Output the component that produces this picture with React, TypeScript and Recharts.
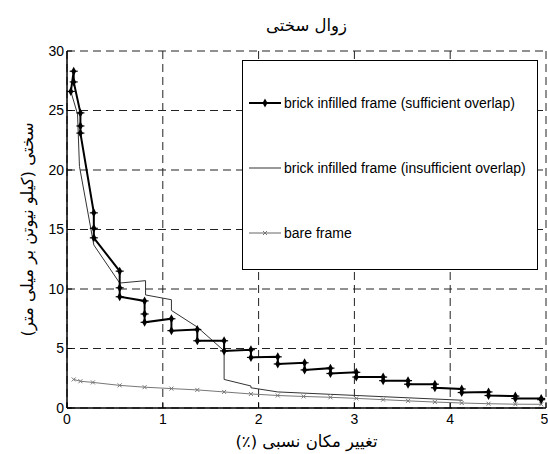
import { LineChart, Line, XAxis, YAxis, CartesianGrid, Legend } from 'recharts';

const xTicks = [0, 1, 2, 3, 4, 5];
const yTicks = [0, 5, 10, 15, 20, 25, 30];

const titleText = 'زوال سختی';
const xLabelText = 'تغییر مکان نسبی (٪)';
const yLabelText = 'سختی (کیلو نیوتن بر میلی متر)';

const seriesNames = [
  'brick infilled frame (sufficient overlap)',
  'brick infilled frame (insufficient overlap)',
  'bare frame',
];

// sufficient overlap (thick, star markers)
const sufficientX = [0.04, 0.07, 0.07, 0.14, 0.14, 0.14, 0.28, 0.28, 0.28, 0.55, 0.55, 0.55, 0.81, 0.81, 0.81, 1.09, 1.09, 1.36, 1.36, 1.64, 1.64, 1.92, 1.92, 2.2, 2.2, 2.48, 2.48, 2.75, 2.75, 3.02, 3.02, 3.3, 3.3, 3.56, 3.56, 3.84, 3.84, 4.12, 4.12, 4.4, 4.4, 4.68, 4.68, 4.95, 4.95];
const sufficientY = [26.6, 28.3, 27.4, 24.8, 23.7, 23.1, 16.4, 15.1, 14.3, 11.5, 10.1, 9.35, 9.0, 7.9, 7.2, 7.5, 6.5, 6.6, 5.65, 5.65, 4.8, 4.9, 4.25, 4.3, 3.7, 3.8, 3.2, 3.35, 2.9, 3.0, 2.6, 2.6, 2.3, 2.3, 2.0, 2.0, 1.7, 1.6, 1.3, 1.35, 1.05, 1.0, 0.8, 0.8, 0.7];

// insufficient overlap (thin, no markers)
const insufficientX = [0.04, 0.11, 0.13, 0.28, 0.55, 0.82, 0.82, 1.09, 1.09, 1.36, 1.64, 1.64, 1.92, 1.92, 2.2, 2.75, 3.3, 4.13];
const insufficientY = [26.6, 24.7, 20.3, 13.7, 10.5, 10.7, 9.5, 9.1, 8.2, 6.8, 4.8, 2.4, 1.85, 1.7, 1.35, 1.15, 0.95, 0.65];

// bare frame (grey, x markers)
const bareX = [0.07, 0.14, 0.27, 0.55, 0.81, 1.09, 1.36, 1.64, 1.92, 2.2, 2.47, 2.75, 3.02, 3.3, 3.56, 3.84, 4.12, 4.4, 4.68, 4.95];
const bareY = [2.4, 2.25, 2.15, 1.9, 1.75, 1.63, 1.52, 1.35, 1.18, 1.05, 0.97, 0.9, 0.81, 0.7, 0.6, 0.5, 0.42, 0.36, 0.32, 0.31];

const toPoints = (xs: number[], ys: number[]) => xs.map((x, i) => ({ x, y: ys[i] }));

const sufficientData = toPoints(sufficientX, sufficientY);
const insufficientData = toPoints(insufficientX, insufficientY);
const bareData = toPoints(bareX, bareY);

const latin = '"Liberation Sans", Arial, sans-serif';
const persian = '"DejaVu Sans", sans-serif';

const StarDot = (props: any) => {
  const { cx, cy, index } = props;
  if (cx == null || cy == null) return <g key={index} />;
  return (
    <g key={index}>
      <path d={`M${cx},${cy - 4.5} L${cx + 2.5},${cy} L${cx},${cy + 4.5} L${cx - 2.5},${cy} Z`} fill="#000" />
      <line x1={cx - 4} x2={cx + 4} y1={cy} y2={cy} stroke="#000" strokeWidth={1.2} />
    </g>
  );
};

const CrossDot = (props: any) => {
  const { cx, cy, index } = props;
  if (cx == null || cy == null) return <g key={index} />;
  const s = 2;
  return (
    <g key={index} stroke="#777" strokeWidth={1}>
      <line x1={cx - s} y1={cy - s} x2={cx + s} y2={cy + s} />
      <line x1={cx - s} y1={cy + s} x2={cx + s} y2={cy - s} />
    </g>
  );
};

const XLabel = (props: any) => {
  const vb = props.viewBox || { x: 67, y: 408, width: 479, height: 46 };
  return (
    <text x={vb.x + vb.width / 2} y={vb.y + vb.height - 7} direction="rtl" textAnchor="middle" fontFamily={persian} fontSize={16.5} fill="#000">
      {xLabelText}
    </text>
  );
};

const YLabel = (props: any) => {
  const vb = props.viewBox || { x: 0, y: 51, width: 67, height: 357 };
  const cx = 27;
  const cy = vb.y + vb.height / 2;
  return (
    <text x={cx} y={cy} transform={`rotate(-90 ${cx} ${cy})`} direction="rtl" textAnchor="middle" dominantBaseline="central" fontFamily={persian} fontSize={16.5} fill="#000">
      {yLabelText}
    </text>
  );
};

const LegendBox = () => {
  const row = (i: number, icon: React.ReactNode) => (
    <div key={i} style={{ position: 'absolute', left: 4, top: 42 + i * 65 - 9, height: 18, display: 'flex', alignItems: 'center' }}>
      <svg width={34} height={18}>{icon}</svg>
      <span style={{ fontFamily: latin, fontSize: 14, color: '#000', marginLeft: 3, whiteSpace: 'nowrap' }}>{seriesNames[i]}</span>
    </div>
  );
  return (
    <div style={{ position: 'relative', width: 296, height: 210, border: '1.5px solid #000', boxSizing: 'border-box', background: '#fff' }}>
      {row(0, (
        <g>
          <line x1={2} x2={34} y1={9} y2={9} stroke="#000" strokeWidth={2} />
          <StarDot cx={18} cy={9} index={0} />
        </g>
      ))}
      {row(1, <line x1={2} x2={34} y1={9} y2={9} stroke="#333" strokeWidth={1} />)}
      {row(2, (
        <g>
          <line x1={2} x2={34} y1={9} y2={9} stroke="#666" strokeWidth={1} />
          <CrossDot cx={18} cy={9} index={0} />
        </g>
      ))}
    </div>
  );
};

export default function App() {
  return (
    <div style={{ position: 'absolute', left: 0, top: 0, width: 548, height: 454 }}>
      <div
        dir="rtl"
        style={{ position: 'absolute', left: 67, top: 15, width: 479, textAlign: 'center', fontFamily: persian, fontSize: 16.5, lineHeight: '22px', color: '#000' }}
      >
        {titleText}
      </div>
      <LineChart width={548} height={454} margin={{ top: 51, right: 2, left: 0, bottom: 0 }}>
        <CartesianGrid stroke="#222" strokeDasharray="8 5" strokeWidth={1} />
        <XAxis
          type="number"
          dataKey="x"
          domain={[0, 5]}
          ticks={xTicks}
          allowDataOverflow
          height={46}
          tickSize={-5}
          tickMargin={11}
          axisLine={{ stroke: '#000', strokeWidth: 1.5 }}
          tickLine={{ stroke: '#000' }}
          tick={{ fill: '#000', fontSize: 14, fontFamily: latin }}
          label={<XLabel />}
        />
        <XAxis
          xAxisId="top"
          orientation="top"
          type="number"
          domain={[0, 5]}
          ticks={xTicks}
          height={0}
          tickSize={-5}
          tick={false}
          axisLine={{ stroke: '#000', strokeWidth: 1.5 }}
          tickLine={{ stroke: '#000' }}
        />
        <YAxis
          type="number"
          domain={[0, 30]}
          ticks={yTicks}
          allowDataOverflow
          width={67}
          tickSize={-5}
          tickMargin={8}
          axisLine={{ stroke: '#000', strokeWidth: 1.5 }}
          tickLine={{ stroke: '#000' }}
          tick={{ fill: '#000', fontSize: 14, fontFamily: latin }}
          label={<YLabel />}
        />
        <YAxis
          yAxisId="right"
          orientation="right"
          type="number"
          domain={[0, 30]}
          ticks={yTicks}
          width={0}
          tickSize={-5}
          tick={false}
          axisLine={{ stroke: '#000', strokeWidth: 1.5 }}
          tickLine={{ stroke: '#000' }}
        />
        <Legend
          layout="vertical"
          align="center"
          verticalAlign="middle"
          wrapperStyle={{ left: 242, top: 60, width: 296, height: 210 }}
          content={<LegendBox />}
        />
        <Line
          name={seriesNames[2]}
          data={bareData}
          dataKey="y"
          type="linear"
          stroke="#777"
          strokeWidth={1}
          dot={CrossDot}
          activeDot={false}
          isAnimationActive={false}
        />
        <Line
          name={seriesNames[1]}
          data={insufficientData}
          dataKey="y"
          type="linear"
          stroke="#333"
          strokeWidth={1}
          dot={false}
          activeDot={false}
          isAnimationActive={false}
        />
        <Line
          name={seriesNames[0]}
          data={sufficientData}
          dataKey="y"
          type="linear"
          stroke="#000"
          strokeWidth={2}
          dot={StarDot}
          activeDot={false}
          isAnimationActive={false}
        />
      </LineChart>
    </div>
  );
}
